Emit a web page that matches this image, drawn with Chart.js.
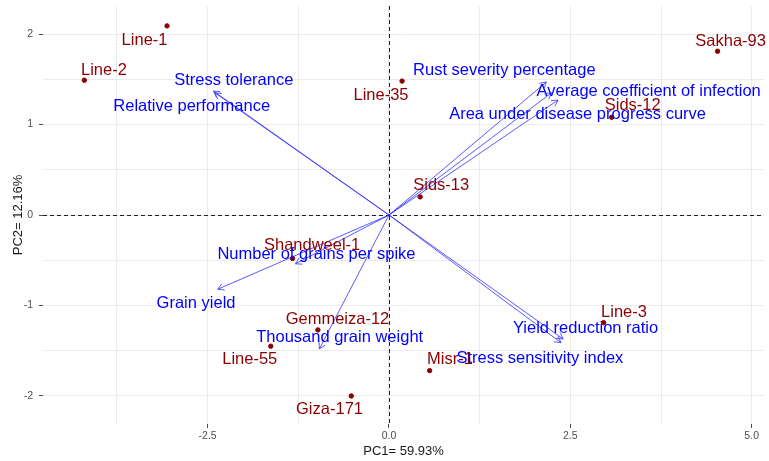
<!DOCTYPE html>
<html>
<head>
<meta charset="utf-8">
<script src="https://cdn.jsdelivr.net/npm/chart.js@4.4.1/dist/chart.umd.min.js"></script>
<style>
  html, body { margin: 0; padding: 0; background: #fff; }
</style>
</head>
<body>
<canvas id="biplot" width="769" height="461"></canvas>
<script>
// genotypes (individuals)
const genotypes = ['Line-1', 'Line-2', 'Sakha-93', 'Line-35', 'Sids-12', 'Sids-13', 'Shandweel-1', 'Gemmeiza-12', 'Line-55', 'Giza-171', 'Misr-1', 'Line-3'];
const genoPC1 = [-3.06, -4.20, 4.53, 0.18, 3.07, 0.43, -1.33, -0.98, -1.63, -0.52, 0.56, 2.96];
const genoPC2 = [2.09, 1.49, 1.81, 1.48, 1.08, 0.20, -0.48, -1.27, -1.45, -2.00, -1.72, -1.19];
// where the repelled labels ended up (data units)
const genoLabelPC1 = [-3.37, -3.93, 4.71, -0.11, 3.36, 0.72, -1.06, -0.71, -1.92, -0.82, 0.84, 3.24];
const genoLabelPC2 = [1.93, 1.60, 1.92, 1.32, 1.21, 0.33, -0.34, -1.16, -1.60, -2.15, -1.60, -1.08];

// traits (variables)
const traits = ['Stress tolerance', 'Relative performance', 'Rust severity percentage', 'Average coefficient of infection', 'Area under disease progress curve', 'Number of grains per spike', 'Grain yield', 'Thousand grain weight', 'Yield reduction ratio', 'Stress sensitivity index'];
const traitPC1 = [-2.42, -2.40, 2.17, 2.24, 2.33, -1.29, -2.36, -0.96, 2.40, 2.37];
const traitPC2 = [1.37, 1.35, 1.47, 1.35, 1.27, -0.54, -0.82, -1.48, -1.37, -1.41];
const traitLabelPC1 = [-2.14, -2.72, 1.59, 3.58, 2.60, -1.00, -2.66, -0.68, 2.71, 2.08];
const traitLabelPC2 = [1.49, 1.20, 1.60, 1.37, 1.11, -0.44, -0.98, -1.35, -1.25, -1.59];

// axes
const xTicks = [-3.75, -2.5, -1.25, 0, 1.25, 2.5, 3.75, 5];
const xTickLabels = ['', '-2.5', '', '0.0', '', '2.5', '', '5.0'];
const yTicks = [-2, -1.5, -1, -0.5, 0, 0.5, 1, 1.5, 2];
const yTickLabels = ['-2', '', '-1', '', '0', '', '1', '', '2'];

const RED = '#8b0000';
const BLUE = '#0000ff';
const FONT = "'Liberation Sans', Arial, sans-serif";

const arrowSets = traits.map((t, i) => ({
    label: t,
    data: [{ x: 0, y: 0 }, { x: traitPC1[i], y: traitPC2[i] }],
    showLine: true,
    borderColor: 'rgba(40,40,255,0.85)',
    borderWidth: 0.9,
    pointRadius: 0,
    order: 1
}));

// dashed zero lines
const zeroLines = {
    id: 'zeroLines',
    beforeDatasetsDraw(chart) {
        const { ctx, chartArea: a, scales: { x, y } } = chart;
        ctx.save();
        ctx.strokeStyle = '#222';
        ctx.lineWidth = 1;
        ctx.setLineDash([4, 3]);
        ctx.beginPath();
        ctx.moveTo(Math.round(x.getPixelForValue(0)) + 0.5, a.top);
        ctx.lineTo(Math.round(x.getPixelForValue(0)) + 0.5, a.bottom);
        ctx.moveTo(a.left, Math.round(y.getPixelForValue(0)) + 0.5);
        ctx.lineTo(a.right, Math.round(y.getPixelForValue(0)) + 0.5);
        ctx.stroke();
        ctx.restore();
    }
};

// text labels + open arrow heads
const labelsAndHeads = {
    id: 'labelsAndHeads',
    afterDatasetsDraw(chart) {
        const { ctx, scales: { x, y } } = chart;
        ctx.save();
        ctx.textAlign = 'center';
        ctx.textBaseline = 'middle';
        ctx.font = '16.5px ' + FONT;

        ctx.fillStyle = RED;
        genotypes.forEach((g, i) => {
            ctx.fillText(g, x.getPixelForValue(genoLabelPC1[i]), y.getPixelForValue(genoLabelPC2[i]));
        });

        ctx.fillStyle = BLUE;
        traits.forEach((t, i) => {
            ctx.fillText(t, x.getPixelForValue(traitLabelPC1[i]), y.getPixelForValue(traitLabelPC2[i]));
        });

        ctx.strokeStyle = 'rgba(40,40,255,0.85)';
        ctx.lineWidth = 0.9;
        const x0 = x.getPixelForValue(0), y0 = y.getPixelForValue(0);
        traits.forEach((t, i) => {
            const x1 = x.getPixelForValue(traitPC1[i]);
            const y1 = y.getPixelForValue(traitPC2[i]);
            const ang = Math.atan2(y1 - y0, x1 - x0);
            ctx.beginPath();
            ctx.moveTo(x1 - 7 * Math.cos(ang - Math.PI / 6), y1 - 7 * Math.sin(ang - Math.PI / 6));
            ctx.lineTo(x1, y1);
            ctx.lineTo(x1 - 7 * Math.cos(ang + Math.PI / 6), y1 - 7 * Math.sin(ang + Math.PI / 6));
            ctx.stroke();
        });
        ctx.restore();
    }
};

new Chart(document.getElementById('biplot'), {
    type: 'scatter',
    data: {
        datasets: [
            {
                label: 'Genotypes',
                data: genotypes.map((g, i) => ({ x: genoPC1[i], y: genoPC2[i] })),
                backgroundColor: RED,
                borderColor: RED,
                pointRadius: 2.2,
                order: 2
            },
            ...arrowSets
        ]
    },
    options: {
        responsive: false,
        animation: false,
        layout: { padding: { top: 6, right: 4, left: 0, bottom: 0 } },
        plugins: { legend: { display: false }, tooltip: { enabled: false } },
        scales: {
            x: {
                type: 'linear',
                min: -4.77,
                max: 5.17,
                afterBuildTicks: s => { s.ticks = xTicks.map(v => ({ value: v })); },
                afterFit: s => { s.height = 37; s.paddingLeft = 0; s.paddingRight = 0; },
                border: { display: false },
                grid: {
                    color: '#ebebeb',
                    tickLength: 4,
                    tickColor: c => (c.tick && xTickLabels[xTicks.indexOf(c.tick.value)] !== '') ? '#4d4d4d' : 'rgba(0,0,0,0)'
                },
                ticks: {
                    autoSkip: false,
                    maxRotation: 0,
                    padding: 2,
                    color: '#4d4d4d',
                    font: { family: FONT, size: 10.5 },
                    callback: v => xTickLabels[xTicks.indexOf(v)]
                },
                title: {
                    display: true,
                    text: 'PC1= 59.93%',
                    color: '#1a1a1a',
                    font: { family: FONT, size: 13 },
                    padding: { top: 0, bottom: 2 }
                }
            },
            y: {
                type: 'linear',
                min: -2.31,
                max: 2.31,
                afterBuildTicks: s => { s.ticks = yTicks.map(v => ({ value: v })); },
                afterFit: s => { s.width = 43; s.paddingTop = 0; s.paddingBottom = 0; },
                border: { display: false },
                grid: {
                    color: '#ebebeb',
                    tickLength: 4,
                    tickColor: c => (c.tick && yTickLabels[yTicks.indexOf(c.tick.value)] !== '') ? '#4d4d4d' : 'rgba(0,0,0,0)'
                },
                ticks: {
                    autoSkip: false,
                    padding: 6,
                    color: '#4d4d4d',
                    font: { family: FONT, size: 10.5 },
                    callback: v => yTickLabels[yTicks.indexOf(v)]
                },
                title: {
                    display: true,
                    text: 'PC2= 12.16%',
                    color: '#1a1a1a',
                    font: { family: FONT, size: 13 },
                    padding: { top: 11, bottom: 0 }
                }
            }
        }
    },
    plugins: [zeroLines, labelsAndHeads]
});
</script>
</body>
</html>
